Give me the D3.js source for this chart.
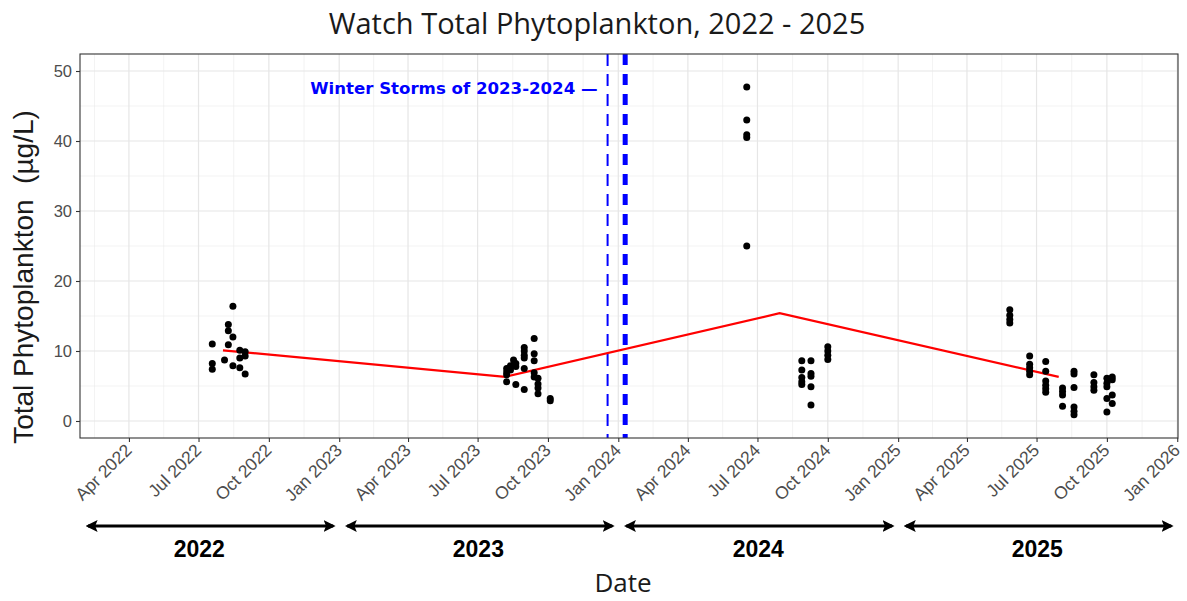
<!DOCTYPE html>
<html>
<head>
<meta charset="utf-8">
<script src="https://cdn.jsdelivr.net/npm/d3@7"></script>
<style>
    body { margin: 0; background: #fff; }
    svg { display: block; }
</style>
</head>
<body>
<div id="chart"></div>
<script>
// one entry per sample: date + total phytoplankton (ug/L)
const sampleDates = [
    "2022-07-19", "2022-07-19", "2022-07-19", "2022-08-04",
    "2022-08-09", "2022-08-09", "2022-08-09",
    "2022-08-15", "2022-08-15", "2022-08-15",
    "2022-08-24", "2022-08-24", "2022-08-24",
    "2022-08-31", "2022-08-31", "2022-08-31",
    "2023-08-08", "2023-08-08", "2023-08-08", "2023-08-08",
    "2023-08-13", "2023-08-13", "2023-08-17",
    "2023-08-20", "2023-08-20", "2023-08-20",
    "2023-08-31", "2023-08-31", "2023-08-31", "2023-08-31", "2023-08-31", "2023-08-31",
    "2023-09-13", "2023-09-13", "2023-09-13", "2023-09-13", "2023-09-13",
    "2023-09-18", "2023-09-18", "2023-09-18", "2023-09-18",
    "2023-10-04", "2023-10-04",
    "2024-06-17", "2024-06-17", "2024-06-17", "2024-06-17", "2024-06-17",
    "2024-08-28", "2024-08-28", "2024-08-28", "2024-08-28", "2024-08-28",
    "2024-09-09", "2024-09-09", "2024-09-09", "2024-09-09", "2024-09-09",
    "2024-10-01", "2024-10-01", "2024-10-01", "2024-10-01",
    "2025-05-27", "2025-05-27", "2025-05-27", "2025-05-27",
    "2025-06-22", "2025-06-22", "2025-06-22", "2025-06-22", "2025-06-22",
    "2025-07-13", "2025-07-13", "2025-07-13", "2025-07-13", "2025-07-13", "2025-07-13",
    "2025-08-04", "2025-08-04", "2025-08-04", "2025-08-04",
    "2025-08-19", "2025-08-19", "2025-08-19", "2025-08-19", "2025-08-19", "2025-08-19",
    "2025-09-14", "2025-09-14", "2025-09-14", "2025-09-14",
    "2025-10-01", "2025-10-01", "2025-10-01", "2025-10-01", "2025-10-01",
    "2025-10-08", "2025-10-08", "2025-10-08", "2025-10-08"
];
const phytoValues = [
    11.0, 8.2, 7.4, 8.7,
    13.8, 12.9, 10.9,
    16.4, 12.0, 7.9,
    10.1, 9.0, 7.6,
    9.9, 9.3, 6.7,
    7.5, 7.0, 6.6, 5.6,
    7.9, 7.3, 8.7,
    8.2, 7.8, 5.2,
    10.5, 10.0, 9.4, 9.0, 7.5, 4.5,
    11.8, 9.6, 8.6, 6.9, 6.3,
    6.1, 5.3, 4.7, 3.9,
    3.2, 2.9,
    47.7, 43.0, 40.9, 40.5, 25.0,
    8.6, 7.3, 6.2, 5.6, 5.2,
    8.6, 6.8, 6.4, 4.9, 2.3,
    10.6, 10.0, 9.4, 8.8,
    15.9, 15.1, 14.5, 14.0,
    9.3, 8.1, 7.6, 7.1, 6.6,
    8.5, 7.1, 5.7, 5.1, 4.6, 4.1,
    4.7, 4.2, 3.7, 2.1,
    7.1, 6.7, 4.8, 2.0, 1.4, 0.9,
    6.6, 5.5, 4.9, 4.4,
    6.1, 5.4, 4.9, 3.2, 1.3,
    6.3, 5.9, 3.7, 2.5
];

// red trend line (one point per year)
const trendDates = ["2022-08-02", "2023-08-06", "2024-07-30", "2025-07-30"];
const trendValues = [10.1, 6.3, 15.4, 6.3];

// storm markers
const stormDates = ["2023-12-18", "2024-01-10"];
const stormLabel = "Winter Storms of 2023-2024 \u2014";

const years = [2022, 2023, 2024, 2025];
const yTicks = [0, 10, 20, 30, 40, 50];
const yMinor = [5, 15, 25, 35, 45];

const width = 1187,
    height = 601,
    panelLeft = 80, panelRight = 1178,
    panelTop = 54, panelBottom = 438;

const parse = d3.utcParse("%Y-%m-%d");

const svg = d3.select("#chart").append("svg")
    .attr("width", width)
    .attr("height", height);

const x = d3.scaleUtc()
    .domain([parse("2022-01-27"), parse("2026-01-02")])
    .range([panelLeft, panelRight]);

const y = d3.scaleLinear()
    .domain([-2.43, 52.43])
    .range([panelBottom, panelTop]);

const quarter = d3.utcMonth.every(3);

// grid (major on quarters, minor halfway between)
const grid = svg.append("g").attr("class", "grid");
const majorX = quarter.range(parse("2022-01-01"), parse("2026-04-02"));
const minorX = majorX.slice(1).map((d, i) => new Date((d.getTime() + majorX[i].getTime()) / 2))
    .filter(d => d >= x.domain()[0] && d <= x.domain()[1]);

grid.selectAll("line.minor-x")
    .data(minorX)
    .enter().append("line")
    .attr("class", "minor-x")
    .attr("x1", d => x(d)).attr("x2", d => x(d))
    .attr("y1", panelTop).attr("y2", panelBottom)
    .attr("stroke", "#ebebeb").attr("stroke-width", 0.6);

grid.selectAll("line.minor-y")
    .data(yMinor)
    .enter().append("line")
    .attr("class", "minor-y")
    .attr("x1", panelLeft).attr("x2", panelRight)
    .attr("y1", d => y(d)).attr("y2", d => y(d))
    .attr("stroke", "#ebebeb").attr("stroke-width", 0.6);

grid.selectAll("line.major-x")
    .data(majorX.filter(d => d >= x.domain()[0] && d <= x.domain()[1]))
    .enter().append("line")
    .attr("class", "major-x")
    .attr("x1", d => x(d)).attr("x2", d => x(d))
    .attr("y1", panelTop).attr("y2", panelBottom)
    .attr("stroke", "#e6e6e6").attr("stroke-width", 1.2);

grid.selectAll("line.major-y")
    .data(yTicks)
    .enter().append("line")
    .attr("class", "major-y")
    .attr("x1", panelLeft).attr("x2", panelRight)
    .attr("y1", d => y(d)).attr("y2", d => y(d))
    .attr("stroke", "#e6e6e6").attr("stroke-width", 1.2);

// storm lines
svg.append("g")
    .selectAll("line")
    .data(stormDates)
    .enter().append("line")
    .attr("x1", d => x(parse(d))).attr("x2", d => x(parse(d)))
    .attr("y1", panelTop).attr("y2", panelBottom)
    .attr("stroke", "#0000ff")
    .attr("stroke-width", (d, i) => i == 0 ? 2 : 5)
    .attr("stroke-dasharray", (d, i) => i == 0 ? "12,8" : "11,9");

svg.append("text")
    .attr("x", x(parse(stormDates[0])) - 10)
    .attr("y", 94)
    .attr("text-anchor", "end")
    .style("font-family", "DejaVu Sans, sans-serif")
    .style("font-weight", "bold")
    .style("font-size", "16.6px")
    .style("fill", "#0000ff")
    .text(stormLabel);

// trend line
const line = d3.line()
    .x((d, i) => x(parse(trendDates[i])))
    .y(d => y(d));

svg.append("path")
    .datum(trendValues)
    .attr("d", line)
    .attr("fill", "none")
    .attr("stroke", "#ff0000")
    .attr("stroke-width", 2.2);

// samples
svg.append("g")
    .selectAll("circle")
    .data(phytoValues)
    .enter().append("circle")
    .attr("cx", (d, i) => x(parse(sampleDates[i])))
    .attr("cy", d => y(d))
    .attr("r", 3.5)
    .attr("fill", "#000");

// panel border
svg.append("rect")
    .attr("x", panelLeft).attr("y", panelTop)
    .attr("width", panelRight - panelLeft).attr("height", panelBottom - panelTop)
    .attr("fill", "none")
    .attr("stroke", "#333")
    .attr("stroke-width", 1.1);

// axes
const yAxis = svg.append("g")
    .attr("transform", `translate(${panelLeft},0)`)
    .call(d3.axisLeft(y).tickValues(yTicks).tickSize(4).tickPadding(4));

const xAxis = svg.append("g")
    .attr("transform", `translate(0,${panelBottom})`)
    .call(d3.axisBottom(x).ticks(quarter).tickFormat(d3.utcFormat("%b %Y")).tickSize(4));

[yAxis, xAxis].forEach(a => {
    a.select(".domain").remove();
    a.selectAll(".tick line").attr("stroke", "#333").attr("stroke-width", 1.1);
    a.selectAll(".tick text")
        .style("font-family", "Liberation Sans, Arial, sans-serif")
        .style("fill", "#4d4d4d");
});
yAxis.selectAll(".tick text").style("font-size", "16.5px");
xAxis.selectAll(".tick text")
    .style("font-size", "17.5px")
    .attr("text-anchor", "end")
    .attr("x", 0).attr("y", 0).attr("dy", "0.35em")
    .attr("transform", "translate(-1,9) rotate(-45)");

// year arrows under the axis
const defs = svg.append("defs");
defs.append("marker")
    .attr("id", "head")
    .attr("viewBox", "0 0 10 10")
    .attr("refX", 8).attr("refY", 5)
    .attr("markerWidth", 4).attr("markerHeight", 4)
    .attr("orient", "auto-start-reverse")
    .append("path")
    .attr("d", "M0,0 L10,5 L0,10 L2,5 Z")
    .attr("fill", "#000");

const yearSpan = yr => [
    Math.max(x(new Date(Date.UTC(yr, 0, 1))), panelLeft) + 4,
    Math.min(x(new Date(Date.UTC(yr + 1, 0, 1))), panelRight) - 2
];

const arrows = svg.append("g").attr("class", "years");
arrows.selectAll("line")
    .data(years)
    .enter().append("line")
    .attr("x1", d => yearSpan(d)[0] + 4)
    .attr("x2", d => yearSpan(d)[1] - 4)
    .attr("y1", 526).attr("y2", 526)
    .attr("stroke", "#000")
    .attr("stroke-width", 3)
    .attr("marker-start", "url(#head)")
    .attr("marker-end", "url(#head)");

// labels sit at mid-year
arrows.selectAll("text")
    .data(years)
    .enter().append("text")
    .attr("x", d => x(new Date(Date.UTC(d, 6, 2))))
    .attr("y", 557)
    .attr("text-anchor", "middle")
    .style("font-family", "Liberation Sans, Arial, sans-serif")
    .style("font-weight", "bold")
    .style("font-size", "23px")
    .style("fill", "#000")
    .text(d => d);

// titles
svg.append("text")
    .attr("x", 597).attr("y", 34)
    .attr("text-anchor", "middle")
    .style("font-family", "Open Sans, sans-serif")
    .style("font-size", "29px")
    .style("fill", "#1a1a1a")
    .text("Watch Total Phytoplankton, 2022 - 2025");

svg.append("text")
    .attr("transform", `translate(33,277) rotate(-90)`)
    .attr("text-anchor", "middle")
    .style("font-family", "Liberation Sans, Arial, sans-serif")
    .style("font-size", "28px")
    .style("white-space", "pre")
    .style("fill", "#1a1a1a")
    .text("Total Phytoplankton  (\u00b5g/L)");

svg.append("text")
    .attr("x", 623).attr("y", 592)
    .attr("text-anchor", "middle")
    .style("font-family", "Open Sans, sans-serif")
    .style("font-size", "26px")
    .style("fill", "#1a1a1a")
    .text("Date");
</script>
</body>
</html>
